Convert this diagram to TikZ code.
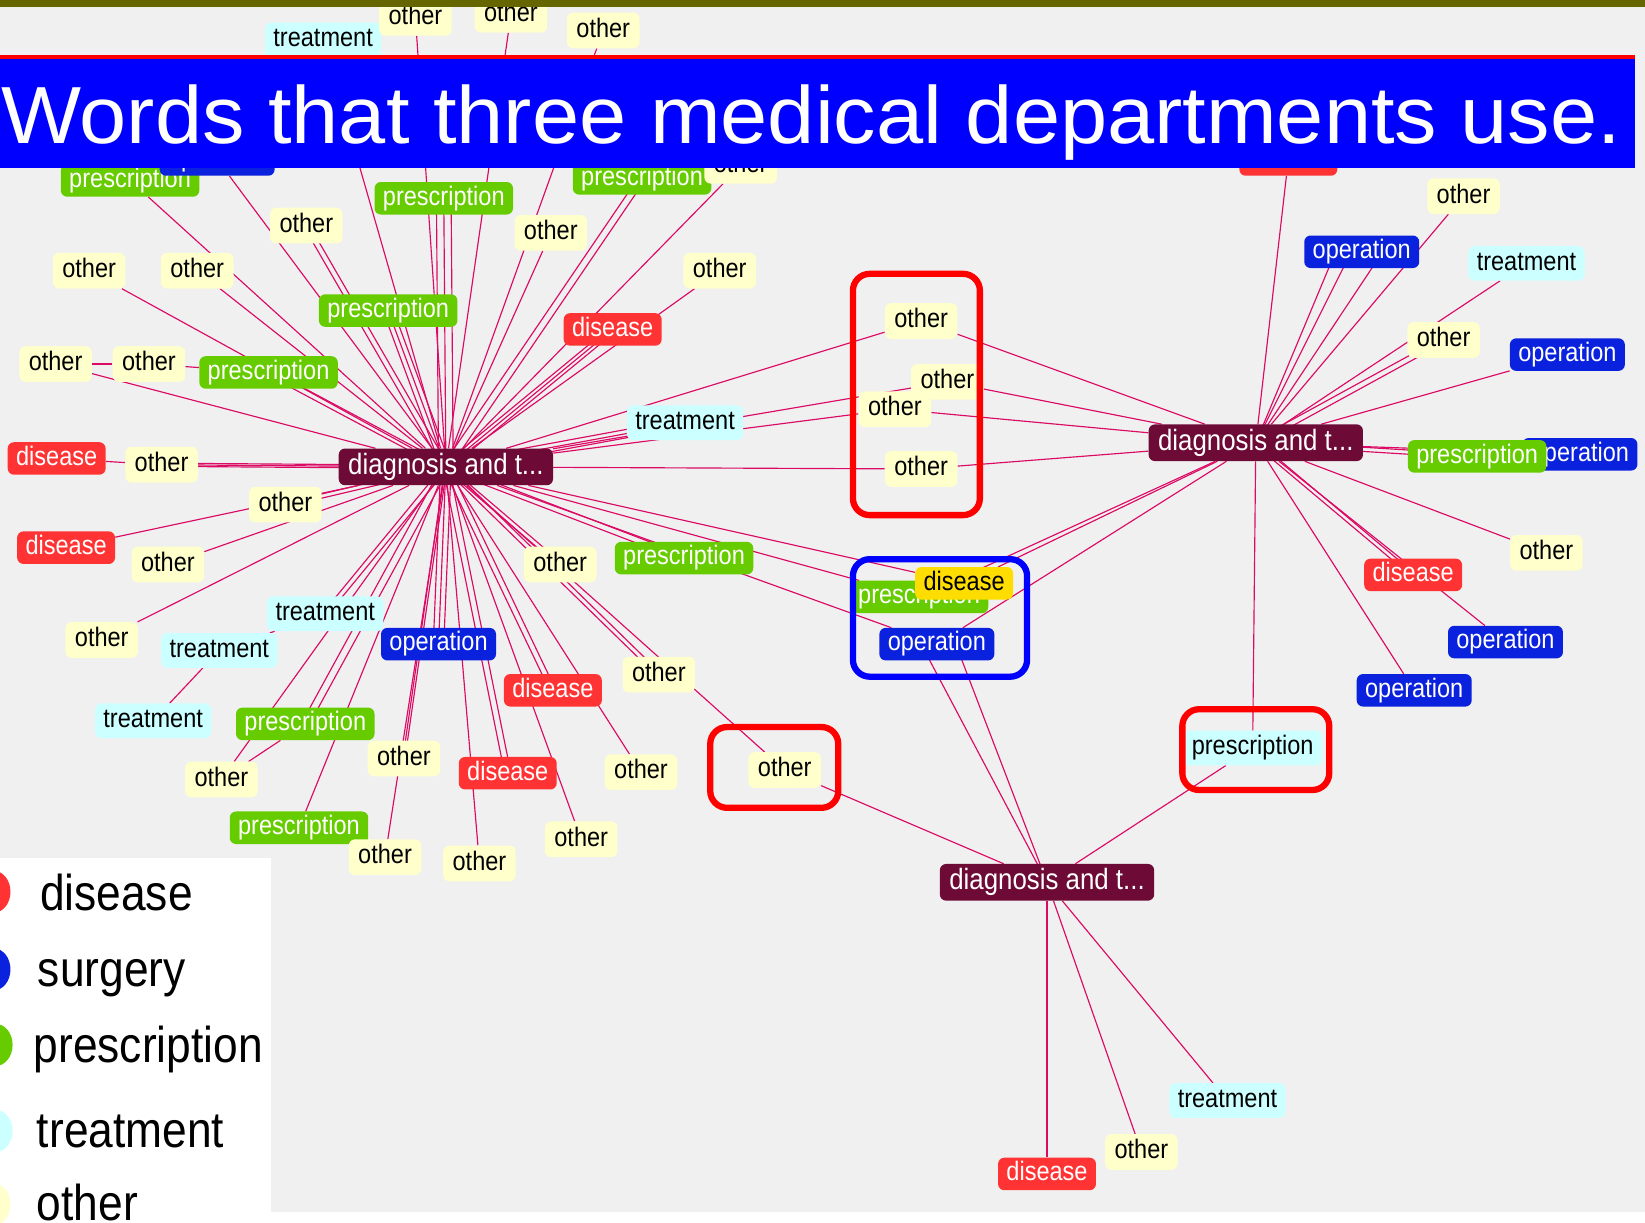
\documentclass[tikz,border=0pt]{standalone}
\usepackage{fontspec}
\usepackage{graphicx}
\newfontfamily\nf[FakeStretch=0.88]{Liberation Sans}
\newfontfamily\tf{Liberation Sans}
\definecolor{cBg}{HTML}{F0F0F0}
\definecolor{cOlive}{HTML}{666600}
\definecolor{cTBlue}{HTML}{0000FF}
\definecolor{cTRed}{HTML}{FF0000}
\definecolor{cOth}{HTML}{FFFFCC}
\definecolor{cDis}{HTML}{FF3333}
\definecolor{cOpe}{HTML}{0A22DD}
\definecolor{cPre}{HTML}{66CC00}
\definecolor{cTre}{HTML}{CCFFFF}
\definecolor{cHub}{HTML}{6E0A36}
\definecolor{cEdge}{HTML}{DC0A64}
\definecolor{cYel}{HTML}{FFDD00}
\pgfdeclarelayer{bg}
\pgfdeclarelayer{edges}
\pgfdeclarelayer{top}
\pgfsetlayers{bg,edges,main,top}
\newcommand\medgx[3]{\foreach \s in {#3}{\draw[edg] ([xshift=\s]#1.center) -- ([xshift=\s]#2.center);}}
\newcommand\medgy[3]{\foreach \s in {#3}{\draw[edg] ([yshift=\s]#1.center) -- ([yshift=\s]#2.center);}}
\newcommand\fanx[3]{\foreach \s in {#3}{\draw[edg] (#1.center) -- ([xshift=\s]#2.center);}}
\begin{document}
\begin{tikzpicture}[x=1pt,y=-1pt,
  nd/.style={rounded corners=6pt, inner xsep=8pt, inner ysep=0pt, minimum height=31pt,
    text height=18pt, text depth=5pt, font=\nf\fontsize{25.5}{26}\selectfont},
  oth/.style={nd, fill=cOth, text=black, minimum height=34pt, inner xsep=9pt},
  dis/.style={nd, fill=cDis, text=white},
  ope/.style={nd, fill=cOpe, text=white},
  pre/.style={nd, fill=cPre, text=white},
  tre/.style={nd, fill=cTre, text=black, minimum height=33pt},
  hub/.style={nd, fill=cHub, text=white, minimum height=35pt, inner xsep=9pt,
    text height=20pt, text depth=6pt, font=\nf\fontsize{28}{29}\selectfont},
  edg/.style={draw=cEdge, line width=1.1pt},
  hl/.style={draw=cTRed, line width=6pt, rounded corners=16pt},
  leg/.style={anchor=base west, inner sep=0pt, text=black, font=\nf\fontsize{48}{50}\selectfont}
]
\useasboundingbox (0,0) rectangle (1568,1165);
\begin{pgfonlayer}{bg}
\fill[white] (0,0) rectangle (1568,1165);
\fill[cBg] (0,7) rectangle (1568,1155);
\end{pgfonlayer}

% ---- cluster 1
\node[tre] (a1) at (308,38) {treatment};
\node[oth] (a2) at (396,17) {other};
\node[oth] (a3) at (487,14) {other};
\node[oth] (a4) at (575,29) {other};
\node[pre] (b1) at (124,172) {prescription};
\node[ope] (b2) at (207,152) {operation};
\node[oth] (b3) at (292,215) {other};
\node[pre] (b4) at (423,189) {prescription};
\node[oth] (b5) at (525,222) {other};
\node[pre] (b6) at (612,170) {prescription};
\node[oth] (b7) at (706,158) {other};
\node[oth] (c1) at (85,258) {other};
\node[oth] (c2) at (188,258) {other};
\node[pre] (c3) at (370,296) {prescription};
\node[oth] (c4) at (686,258) {other};
\node[dis] (c5) at (584,314) {disease};
\node[oth] (d1) at (53,347) {other};
\node[oth] (d2) at (142,347) {other};
\node[pre] (d3) at (256,355) {prescription};
\node[tre] (d4) at (653,403) {treatment};
\node[dis] (e1) at (54,437) {disease};
\node[oth] (e2) at (154,443) {other};
\node[oth] (e3) at (272,481) {other};
\node[dis] (f1) at (63,522) {disease};
\node[oth] (f2) at (160,538) {other};
\node[oth] (f3) at (534,538) {other};
\node[pre] (f4) at (652,532) {prescription};
\node[tre] (g1) at (310,585) {treatment};
\node[oth] (g2) at (97,610) {other};
\node[tre] (g3) at (209,620) {treatment};
\node[ope] (g4) at (418,614) {operation};
\node[dis] (g5) at (527,658) {disease};
\node[oth] (g6) at (628,643) {other};
\node[tre] (h1) at (146,687) {treatment};
\node[pre] (h2) at (291,690) {prescription};
\node[oth] (h3) at (385,723) {other};
\node[oth] (h4) at (211,743) {other};
\node[dis] (h5) at (484,737) {disease};
\node[oth] (h6) at (611,736) {other};
\node[pre] (i1) at (285,789) {prescription};
\node[oth] (i2) at (367,817) {other};
\node[oth] (i3) at (457,823) {other};
\node[oth] (i4) at (554,800) {other};

% ---- shared
\node[oth] (r1) at (878,306) {other};
\node[oth] (r2) at (903,364) {other};
\node[oth] (r3) at (853,390) {other};
\node[oth] (r4) at (878,447) {other};
\node[pre] (s1) at (876,569) {prescription};
\node[ope] (s3) at (893,614) {operation};
\node[dis, fill=cYel, text=black] (s2) at (919,556) {disease};
\node[oth] (t1) at (748,734) {other};
\node[tre] (u1) at (1194,713) {prescription};

% ---- cluster 2
\node[dis] (j1) at (1228,152) {disease};
\node[oth] (j2) at (1395,187) {other};
\node[ope] (j3) at (1298,240) {operation};
\node[tre] (j4) at (1455,251) {treatment};
\node[oth] (j5) at (1376,324) {other};
\node[ope] (j6) at (1494,338) {operation};
\node[ope] (j8) at (1506,433) {operation};
\node[pre] (j7) at (1408,435) {prescription};
\node[oth] (j9) at (1474,527) {other};
\node[dis] (j10) at (1347,548) {disease};
\node[ope] (j11) at (1435,612) {operation};
\node[ope] (j12) at (1348,658) {operation};

% ---- cluster 3
\node[tre] (k1) at (1170,1049) {treatment};
\node[oth] (k2) at (1088,1098) {other};
\node[dis] (k3) at (998,1119) {disease};

% ---- hubs
\node[hub] (H1) at (425,445) {diagnosis and t...};
\node[hub] (H2) at (1197,422) {diagnosis and t...};
\node[hub] (H3) at (998,841) {diagnosis and t...};

% ---- edges
\begin{pgfonlayer}{edges}
\foreach \n in {a1,a2,a3,a4,b1,b2,b5,b7,c1,c2,c4,d1,f1,f2,g2,h4,i1,i2,i3,i4,h6,t1,r1,r2,r3,r4,s1,s2,s3}
  \draw[edg] (H1) -- (\n);
\draw[edg] (e1) -- (e2);
\draw[edg] (d1) -- (d2);
\draw[edg] (d2) -- (d3);
\draw[edg] (h1) -- (g3);
\draw[edg] (g3) -- (g1);
\draw[edg] (h4) -- (h2);
\medgx{H1}{b4}{-7,0,7}
\medgx{H1}{b6}{-4,4}
\medgx{H1}{b3}{-3,3}
\medgx{H1}{c3}{-5,0,5}
\medgx{H1}{c5}{-5,0,5}
\medgx{H1}{g4}{-5,0,5}
\medgx{H1}{h5}{-3,3}
\medgx{H1}{g5}{-3,3}
\medgx{H1}{h2}{-4,4}
\medgx{H1}{f3}{-3,3}
\medgx{H1}{g1}{-3,3}
\medgx{H1}{h3}{-1,1}
\medgy{H1}{e2}{-1.5,0,1.5}
\medgy{H1}{d4}{-4,0,4}
\medgy{H1}{e3}{-2,2}
\medgy{H1}{f4}{-3,3}
\medgy{H1}{d3}{-3,3}
\medgy{H1}{g6}{-3,3}
\foreach \n in {j1,j2,j4,j6,j8,j9,j11,j12,u1,r1,r2,r3,r4,s1,s2,s3}
  \draw[edg] (H2) -- (\n);
\fanx{H2}{j3}{-25,-10,20}
\medgy{H2}{j5}{-3,3}
\medgy{H2}{j7}{-2,2}
\medgx{H2}{j10}{-3,3}
\fanx{H3}{s3}{-15,18}
\foreach \n in {t1,u1,k1,k2,k3}
  \draw[edg] (H3) -- (\n);
\end{pgfonlayer}

% ---- highlight frames and title
\begin{pgfonlayer}{top}
\draw[hl] (813,261) rectangle (934,491);
\draw[hl, draw=cTBlue] (813,533) rectangle (979,645);
\draw[hl] (677,693) rectangle (799,770);
\draw[hl] (1127,676) rectangle (1267,753);
\fill[cOlive] (0,0) rectangle (1568,7);
\fill[cTRed] (0,52) rectangle (1558,56);
\fill[cTBlue] (0,56) rectangle (1558,160);
\node[anchor=base west, inner sep=0pt, text=white] (title) at (1,137)
  {\resizebox{1544pt}{56pt}{\tf Words that three medical departments use.}};
% legend
\fill[white] (0,818) rectangle (258,1155);
\fill[cDis] (-6,850) ellipse [x radius=16pt, y radius=20pt];
\fill[cOpe] (-6,924) ellipse [x radius=16pt, y radius=20pt];
\fill[cPre] (-4,996) ellipse [x radius=16pt, y radius=20pt];
\fill[cTre] (-4,1078) ellipse [x radius=16pt, y radius=20pt];
\fill[cOth] (-6,1148) ellipse [x radius=16pt, y radius=20pt];
\node[leg] (l1) at (38,868) {disease};
\node[leg] (l2) at (36,940) {surgery};
\node[leg] (l3) at (32,1013) {prescription};
\node[leg] (l4) at (35,1094) {treatment};
\node[leg] (l5) at (35,1163) {other};
\end{pgfonlayer}
\end{tikzpicture}
\end{document}
